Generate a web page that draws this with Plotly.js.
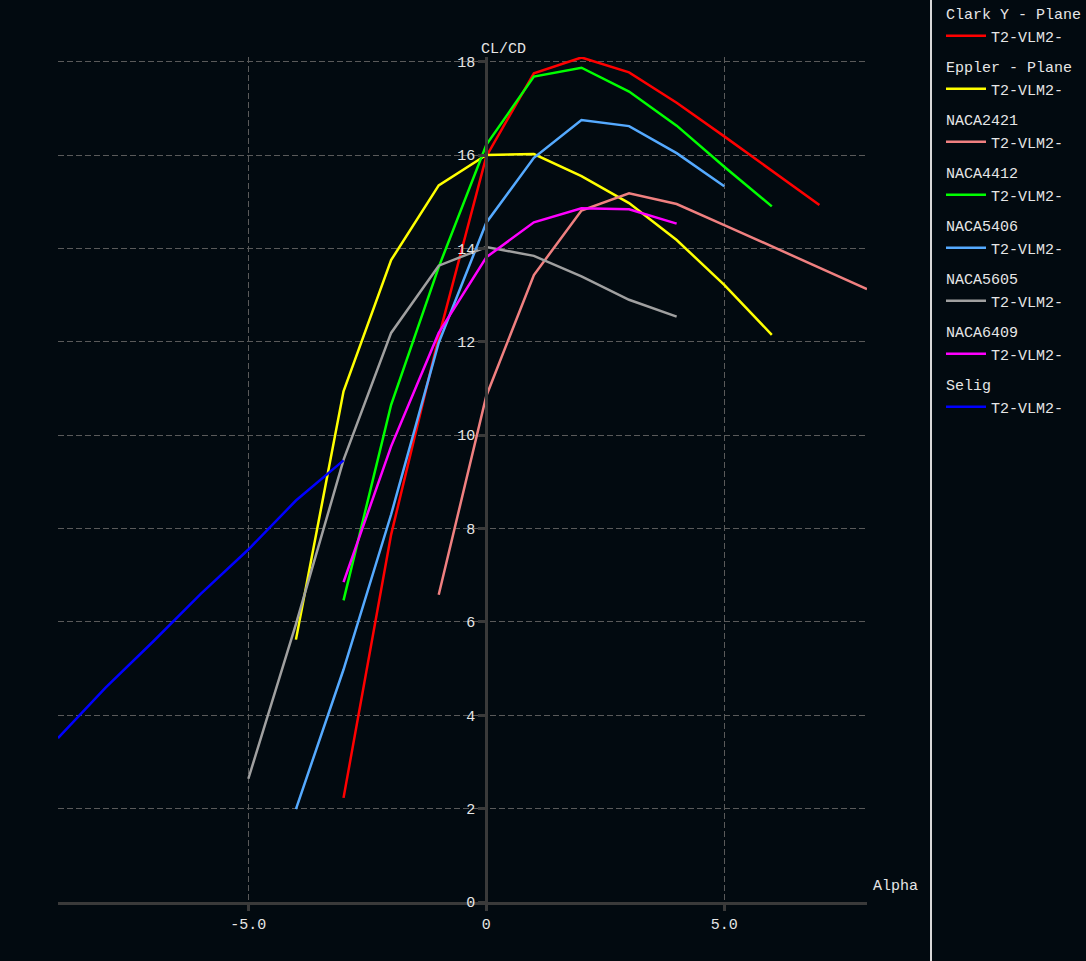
<!DOCTYPE html>
<html>
<head>
<meta charset="utf-8">
<script src="https://cdn.plot.ly/plotly-3.0.1.min.js"></script>
<style>
  html, body { margin: 0; padding: 0; background: #020a10; }
  #chart { width: 1086px; height: 961px; }
</style>
</head>
<body>
<div id="chart"></div>
<script>
// ---- data (alpha in degrees, CL/CD) ----
const seriesNames = ["Clark Y - Plane", "Eppler - Plane", "NACA2421", "NACA4412", "NACA5406", "NACA5605", "NACA6409", "Selig"];
const polarName = "T2-VLM2-";
const seriesColors = ["#ff0000", "#ffff00", "#f08080", "#00ff00", "#55aaff", "#a0a0a0", "#ff00ff", "#0000ff"];

const alphaClarkY = [-3, -2, -1, 0, 1, 2, 3, 4, 5, 6, 7];
const clcdClarkY  = [2.23, 7.87, 12.1, 15.97, 17.75, 18.09, 17.77, 17.12, 16.4, 15.66, 14.93];

const alphaEppler = [-4, -3, -2, -1, 0, 1, 2, 3, 4, 5, 6];
const clcdEppler  = [5.62, 10.94, 13.75, 15.35, 16.0, 16.02, 15.55, 14.97, 14.18, 13.22, 12.15];

const alphaNACA2421 = [-1, 0, 1, 2, 3, 4, 5, 6, 7, 8];
const clcdNACA2421  = [6.58, 10.84, 13.43, 14.81, 15.18, 14.95, 14.5, 14.04, 13.58, 13.13];

const alphaNACA4412 = [-3, -2, -1, 0, 1, 2, 3, 4, 5, 6];
const clcdNACA4412  = [6.46, 10.65, 13.6, 16.22, 17.68, 17.87, 17.36, 16.63, 15.75, 14.9];

const alphaNACA5406 = [-4, -3, -2, -1, 0, 1, 2, 3, 4, 5];
const clcdNACA5406  = [1.99, 4.98, 8.3, 11.98, 14.55, 15.94, 16.75, 16.62, 16.04, 15.33];

const alphaNACA5605 = [-5, -4, -3, -2, -1, 0, 1, 2, 3, 4];
const clcdNACA5605  = [2.64, 5.95, 9.47, 12.19, 13.63, 14.03, 13.84, 13.4, 12.9, 12.54];

const alphaNACA6409 = [-3, -2, -1, 0, 1, 2, 3, 4];
const clcdNACA6409  = [6.85, 9.76, 12.19, 13.81, 14.56, 14.86, 14.84, 14.53];

const alphaSelig = [-9, -8, -7, -6, -5, -4, -3];
const clcdSelig  = [3.51, 4.59, 5.58, 6.6, 7.55, 8.6, 9.46];

const xTickVals = [-5, 0, 5];
const xTickText = ["-5.0", "0", "5.0"];
const yTickVals = [0, 2, 4, 6, 8, 10, 12, 14, 16, 18];
const yTickText = ["0", "2", "4", "6", "8", "10", "12", "14", "16", "18"];

// ---- build traces ----
const xs = [alphaClarkY, alphaEppler, alphaNACA2421, alphaNACA4412, alphaNACA5406, alphaNACA5605, alphaNACA6409, alphaSelig];
const ys = [clcdClarkY, clcdEppler, clcdNACA2421, clcdNACA4412, clcdNACA5406, clcdNACA5605, clcdNACA6409, clcdSelig];

const FONT = "'Courier New', 'Liberation Mono', monospace";
const TXT = "#e6e6e6";
const FS = 15;

const traces = seriesNames.map((n, i) => ({
  type: "scatter",
  mode: "lines",
  x: xs[i],
  y: ys[i],
  name: polarName,
  legendgroup: n,
  legendgrouptitle: { text: n, font: { family: FONT, size: FS, color: TXT } },
  line: { color: seriesColors[i], width: 2.5 },
  hoverinfo: "x+y+name"
}));

const L = 58, R = 219, T = 57, B = 59;
const plotW = 1086 - L - R;
const plotH = 961 - T - B;
const xMin = -9, xMax = 8;

const layout = {
  width: 1086,
  height: 961,
  paper_bgcolor: "#020a10",
  plot_bgcolor: "#020a10",
  margin: { l: L, r: R, t: T, b: B, autoexpand: false },
  font: { family: FONT, size: FS, color: TXT },
  showlegend: true,
  legend: {
    x: (941 - L) / plotW,
    xanchor: "left",
    y: 1 + (T + 3) / plotH,
    yanchor: "top",
    bgcolor: "rgba(0,0,0,0)",
    font: { family: FONT, size: FS, color: TXT },
    tracegroupgap: 8,
    itemwidth: 40,
    traceorder: "grouped"
  },
  xaxis: {
    range: [xMin, xMax],
    tickvals: xTickVals,
    ticktext: xTickText,
    showgrid: true,
    gridcolor: "#5a5a5a",
    griddash: "6px,3px",
    gridwidth: 1,
    zeroline: false,
    showline: true,
    linecolor: "#3a3a3a",
    linewidth: 3,
    ticks: "outside",
    ticklen: 6,
    tickwidth: 3,
    tickcolor: "#3a3a3a",
    tickfont: { family: FONT, size: FS, color: TXT },
    fixedrange: true
  },
  yaxis: {
    range: [0, 18.1],
    tickvals: yTickVals,
    ticktext: yTickText,
    anchor: "free",
    position: (0 - xMin) / (xMax - xMin),
    showgrid: true,
    gridcolor: "#5a5a5a",
    griddash: "6px,3px",
    gridwidth: 1,
    zeroline: false,
    showline: true,
    linecolor: "#3a3a3a",
    linewidth: 3,
    ticks: "outside",
    ticklen: 7,
    tickwidth: 3,
    tickcolor: "#3a3a3a",
    tickfont: { family: FONT, size: FS, color: TXT },
    fixedrange: true
  },
  shapes: [{
    type: "line", xref: "paper", yref: "paper",
    x0: (931 - L) / plotW, x1: (931 - L) / plotW,
    y0: -B / plotH - 0.01, y1: 1 + T / plotH + 0.01,
    line: { color: "#d8d8d8", width: 2 }
  }],
  annotations: [
    { text: "CL/CD", xref: "x", yref: "paper", x: 0, y: 1 - 3 / plotH, xanchor: "left", yanchor: "bottom", xshift: -7, showarrow: false, font: { family: FONT, size: FS, color: TXT } },
    { text: "Alpha", xref: "paper", yref: "paper", x: (871 - L) / plotW, y: (902 - 886) / plotH, xanchor: "left", yanchor: "middle", showarrow: false, font: { family: FONT, size: FS, color: TXT } }
  ]
};

Plotly.newPlot("chart", traces, layout, { displayModeBar: false, staticPlot: true });
</script>
</body>
</html>
